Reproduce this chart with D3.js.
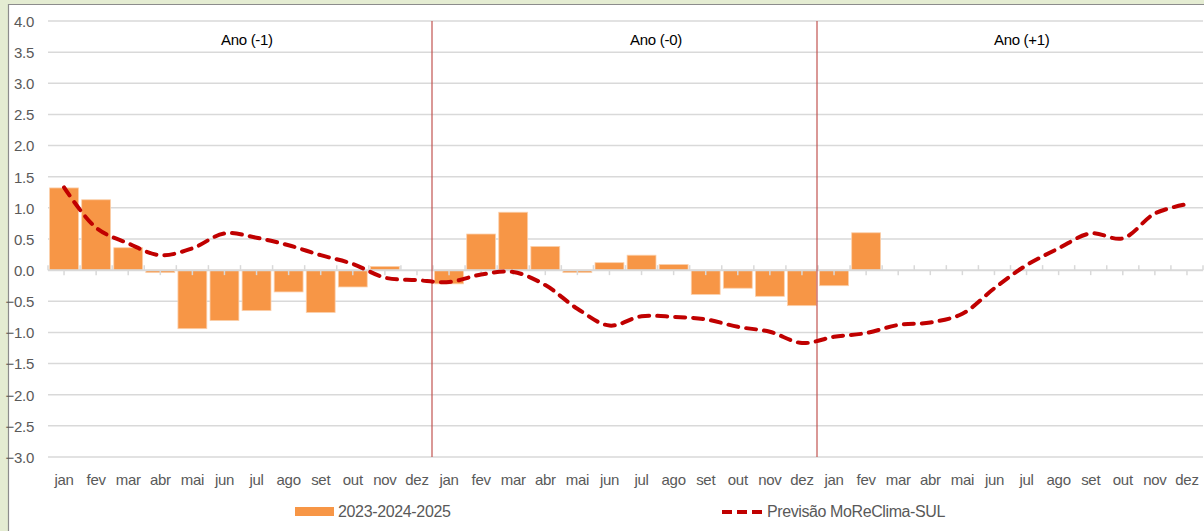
<!DOCTYPE html>
<html>
<head>
<meta charset="utf-8">
<script src="https://cdn.jsdelivr.net/npm/d3@7"></script>
<style>
  html, body { margin: 0; padding: 0; background: #e4ecd2; }
  svg { display: block; }
</style>
</head>
<body>
<svg id="chart" width="1204" height="531"></svg>
<script>
// ---------- data ----------
const months = ["jan","fev","mar","abr","mai","jun","jul","ago","set","out","nov","dez"];
const categories = [].concat(months.map(m => m + "|-1"), months.map(m => m + "|0"), months.map(m => m + "|+1"));
const yearLabels = ["Ano (-1)", "Ano (-0)", "Ano (+1)"];
const yTicks = [-3.0,-2.5,-2.0,-1.5,-1.0,-0.5,0.0,0.5,1.0,1.5,2.0,2.5,3.0,3.5,4.0];

// observed anomalies 2023-2024-2025 (bars)
const observed = [
  1.32, 1.13, 0.36, -0.04, -0.94, -0.81, -0.65, -0.35, -0.68, -0.27, 0.06, null,
  -0.22, 0.58, 0.93, 0.38, -0.04, 0.12, 0.24, 0.09, -0.39, -0.29, -0.42, -0.57,
  -0.25, 0.60, null, null, null, null, null, null, null, null, null, null
];
// forecast MoReClima-SUL (dashed line)
const forecast = [
  1.33, 0.68, 0.43, 0.24, 0.35, 0.59, 0.52, 0.40, 0.24, 0.10, -0.12, -0.16,
  -0.19, -0.07, -0.03, -0.24, -0.62, -0.89, -0.74, -0.75, -0.79, -0.91, -0.99, -1.17,
  -1.07, -1.01, -0.88, -0.84, -0.70, -0.29, 0.08, 0.35, 0.59, 0.51, 0.91, 1.06
];
const seriesNames = ["2023-2024-2025", "Previsão MoReClima-SUL"];

// ---------- layout ----------
const FONT = "'Liberation Sans Narrow','Arial Narrow','Liberation Sans',Arial,sans-serif";
const svg = d3.select("#chart");
const W = 1204, H = 531;
const plot = { left: 48, right: 1203, top: 21, bottom: 457 };

// frame
svg.append("rect").attr("x", 0).attr("y", 0).attr("width", W).attr("height", H).attr("fill", "#e4ecd2");
svg.append("rect").attr("x", 8).attr("y", 4).attr("width", W - 8).attr("height", H - 4).attr("fill", "#ffffff");
svg.append("line").attr("x1", 8).attr("x2", W).attr("y1", 4.5).attr("y2", 4.5).attr("stroke", "#8c8c8c").attr("stroke-width", 1.2);
svg.append("line").attr("x1", 8.5).attr("x2", 8.5).attr("y1", 4).attr("y2", H).attr("stroke", "#8c8c8c").attr("stroke-width", 1.2);

const x = d3.scaleBand().domain(categories).range([plot.left, plot.right]).paddingInner(0.1).paddingOuter(0.05);
const xb = d3.scaleBand().domain(categories).range([plot.left, plot.right]).padding(0);
const y = d3.scaleLinear().domain([-3, 4]).range([plot.bottom, plot.top]);

// gridlines
svg.append("g")
  .selectAll("line").data(yTicks.filter(v => v !== 0)).join("line")
  .attr("x1", plot.left).attr("x2", plot.right)
  .attr("y1", d => y(d)).attr("y2", d => y(d))
  .attr("stroke", "#d9d9d9").attr("stroke-width", 1.5);

// y axis labels
const yAxis = d3.axisLeft(y).tickValues(yTicks).tickFormat(d3.format(".1f")).tickSize(0).tickPadding(0);
const gy = svg.append("g").attr("transform", `translate(34,0)`).call(yAxis);
gy.select(".domain").remove();
gy.selectAll("text").attr("font-family", FONT).attr("font-size", 15).attr("fill", "#595959").attr("dy", "0.36em")
  .attr("letter-spacing", "-0.3px");

// bars
svg.append("g").selectAll("rect")
  .data(categories.map((c, i) => ({ c, v: observed[i] })).filter(d => d.v !== null && d.v !== 0))
  .join("rect")
  .attr("x", d => x(d.c))
  .attr("width", x.bandwidth())
  .attr("y", d => y(Math.max(0, d.v)))
  .attr("height", d => Math.abs(y(d.v) - y(0)))
  .attr("fill", "#f79646")
  .attr("stroke", "#fbd0ac").attr("stroke-width", 0.8);

// zero axis line with ticks
svg.append("line").attr("x1", plot.left).attr("x2", plot.right).attr("y1", y(0)).attr("y2", y(0))
  .attr("stroke", "#d9d9d9").attr("stroke-width", 2);
// boundary ticks (above)
svg.append("g").selectAll("line").data(categories.concat(["end"])).join("line")
  .attr("x1", d => d === "end" ? plot.right : xb(d)).attr("x2", d => d === "end" ? plot.right : xb(d))
  .attr("y1", y(0) - 5).attr("y2", y(0))
  .attr("stroke", "#d9d9d9").attr("stroke-width", 1.5);
// center ticks (below)
const xTickAxis = d3.axisBottom(xb).tickSize(5).tickFormat("");
const gxt = svg.append("g").attr("transform", `translate(0,${y(0)})`).call(xTickAxis);
gxt.select(".domain").remove();
gxt.selectAll("line").attr("stroke", "#d9d9d9").attr("stroke-width", 1.5);

// year separators
svg.append("g").selectAll("line").data([categories[12], categories[24]]).join("line")
  .attr("x1", d => xb(d) - 1).attr("x2", d => xb(d) - 1)
  .attr("y1", plot.top).attr("y2", plot.bottom)
  .attr("stroke", "#c0504d").attr("stroke-width", 1.3).attr("opacity", 0.9);

// year labels
const yearPos = [6.2, 18.95, 30.35]; // category-unit positions
svg.append("g").selectAll("text").data(yearLabels).join("text")
  .attr("x", (d, i) => plot.left + yearPos[i] * xb.bandwidth())
  .attr("y", 45)
  .attr("text-anchor", "middle")
  .attr("font-family", FONT).attr("font-size", 15).attr("fill", "#000")
  .attr("letter-spacing", "-0.3px")
  .text(d => d);

// forecast line
const line = d3.line()
  .x((d, i) => xb(categories[i]) + xb.bandwidth() / 2)
  .y(d => y(d))
  .curve(d3.curveCatmullRom.alpha(0.5));
svg.append("path").datum(forecast)
  .attr("d", line)
  .attr("fill", "none").attr("stroke", "#c00000").attr("stroke-width", 4)
  .attr("stroke-dasharray", "10,8").attr("stroke-linecap", "round");

// month labels
const xLabAxis = d3.axisBottom(xb).tickSize(0).tickPadding(0).tickFormat(d => d.split("|")[0]);
const gxl = svg.append("g").attr("transform", `translate(0,480)`).call(xLabAxis);
gxl.select(".domain").remove();
gxl.selectAll("text").attr("font-family", FONT).attr("font-size", 15).attr("fill", "#595959").attr("dy", "0.36em")
  .attr("letter-spacing", "-0.3px");

// legend
const lg = svg.append("g");
lg.append("rect").attr("x", 295).attr("y", 507).attr("width", 39).attr("height", 9).attr("fill", "#f79646");
lg.append("text").attr("x", 338).attr("y", 517).attr("font-family", FONT).attr("font-size", 16).attr("fill", "#595959")
  .attr("letter-spacing", "-0.35px").text(seriesNames[0]);
lg.append("line").attr("x1", 722).attr("x2", 762).attr("y1", 512).attr("y2", 512)
  .attr("stroke", "#c00000").attr("stroke-width", 4).attr("stroke-dasharray", "10,5").attr("stroke-linecap", "butt");
lg.append("text").attr("x", 767).attr("y", 517).attr("font-family", FONT).attr("font-size", 16).attr("fill", "#595959")
  .attr("letter-spacing", "-0.4px").text(seriesNames[1]);
</script>
</body>
</html>
